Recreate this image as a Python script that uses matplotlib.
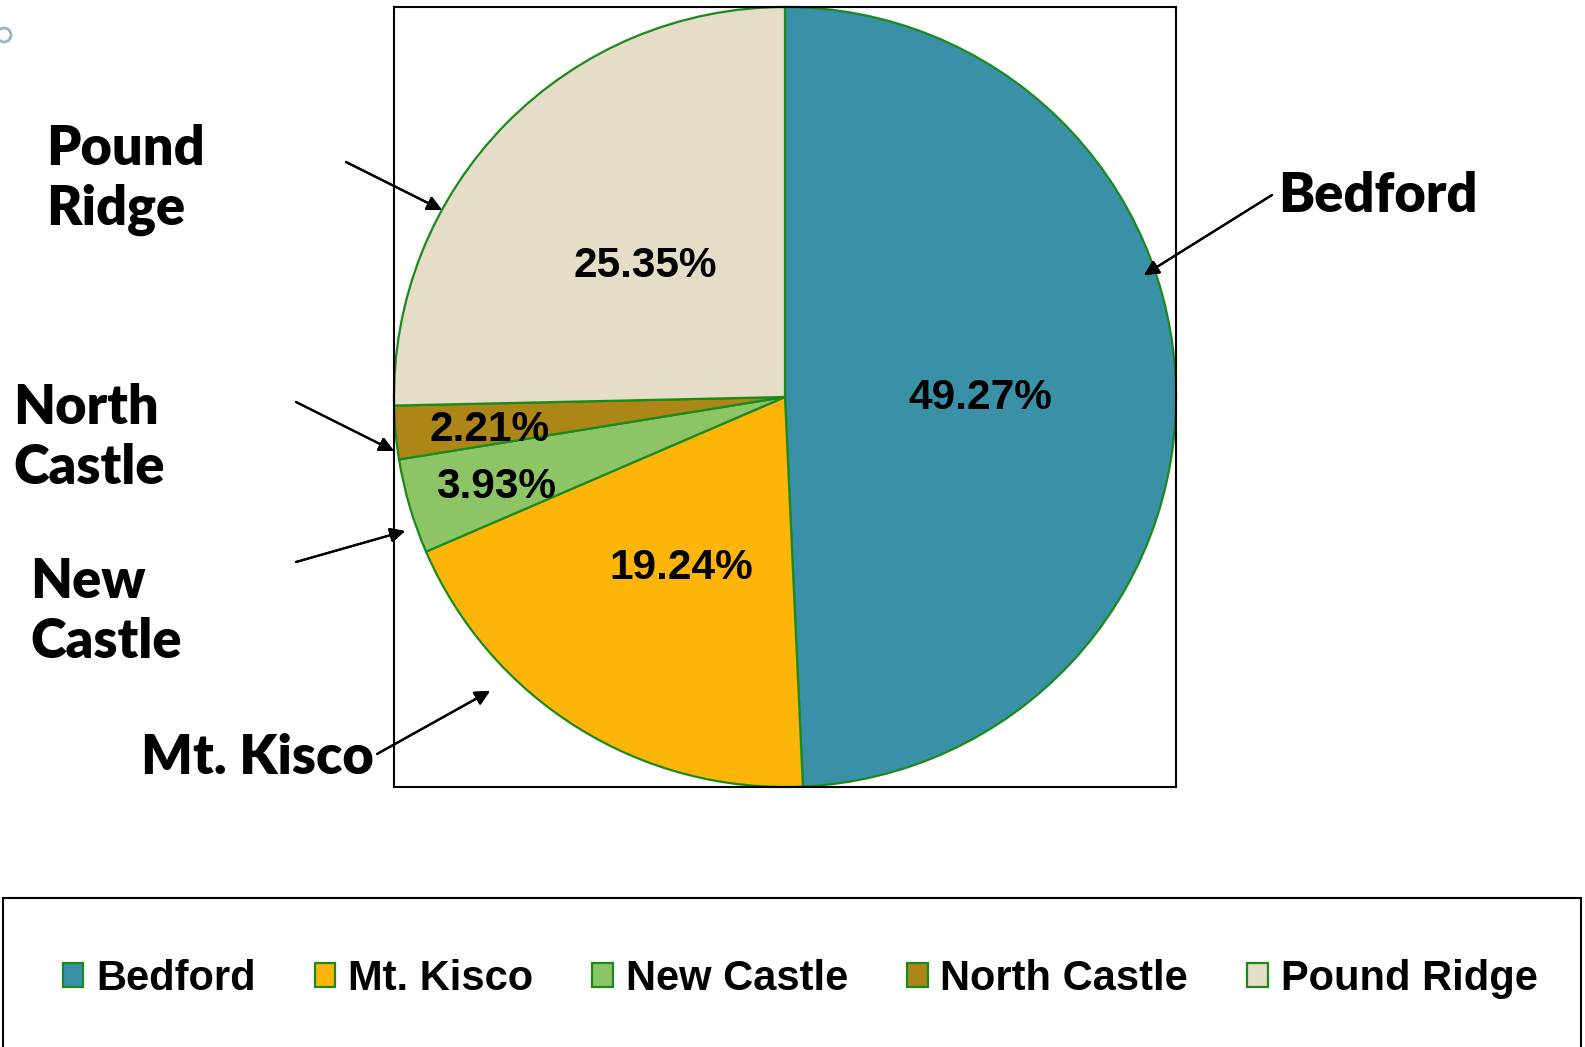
import matplotlib
matplotlib.use("Agg")
import matplotlib.pyplot as plt
import numpy as np
from matplotlib.patches import Rectangle, Ellipse

towns = ['Bedford', 'Mt. Kisco', 'New Castle', 'North Castle', 'Pound Ridge']
shares = [49.27, 19.24, 3.93, 2.21, 25.35]
colors = ['#3A91A7', '#FDB50A', '#8DC566', '#AC8717', '#E5DDC8']
pct_dist = [0.5, 0.5, 0.77, 0.76, 0.5]

W, H = 1585, 1047
fig = plt.figure(figsize=(W / 100, H / 100), dpi=100)

def fx(x):
    return x / W

def fy(y):
    return 1 - y / H

# pie box
ax = fig.add_axes([fx(394), fy(787), fx(1176) - fx(394), fy(7) - fy(787)])
wedges, _, autotexts = ax.pie(shares, colors=colors, startangle=90, counterclock=False,
                              autopct=lambda p: f'{p:.2f}%', pctdistance=0.5,
                              wedgeprops=dict(edgecolor='#1a8a1a', linewidth=1.6),
                              textprops=dict(family='Liberation Sans', weight='bold',
                                             fontsize=30.5, color='black'),
                              frame=True)
for w, t, d in zip(wedges, autotexts, pct_dist):
    ang = np.deg2rad((w.theta1 + w.theta2) / 2)
    t.set_position((d * np.cos(ang), d * np.sin(ang) - 0.015))
ax.set_xlim(-1, 1)
ax.set_ylim(-1, 1)
ax.set_aspect('auto')
ax.set_xticks([])
ax.set_yticks([])
for s in ax.spines.values():
    s.set_linewidth(1.5)
    s.set_color('black')

# callout labels with arrows (pixel positions, y from top)
callouts = [
    ('Bedford', 1278, 196, (1272, 195), (1144, 275)),
    ('Pound\nRidge', 46, 180, (346, 162), (442, 210)),
    ('North\nCastle', 13, 438, (296, 402), (394, 451)),
    ('New\nCastle', 30, 612, (296, 562), (405, 531)),
    ('Mt. Kisco', 141, 758, (377, 754), (490, 691)),
]
for name, tx, ty, p0, p1 in callouts:
    fig.text(fx(tx), fy(ty), name, ha='left', va='center', family='Lato',
             weight='heavy', fontsize=39, linespacing=1.22)
    fig.add_artist(plt.annotate('', xy=(p1[0], H - p1[1]), xytext=(p0[0], H - p0[1]),
                                xycoords='figure pixels', textcoords='figure pixels',
                                arrowprops=dict(arrowstyle='-|>', color='black', lw=1.6,
                                                mutation_scale=22, shrinkA=0, shrinkB=0)))

# legend box
fig.add_artist(Rectangle((fx(3), fy(1060)), fx(1581) - fx(3), fy(898) - fy(1060),
                         transform=fig.transFigure, fill=False, edgecolor='black',
                         linewidth=1.5))
fig.legend(wedges, towns, loc='center', bbox_to_anchor=(fx(800), fy(979)), ncol=5,
           frameon=False, prop=dict(family='Liberation Sans', weight='bold', size=30),
           handlelength=0.5, handleheight=0.5, handletextpad=0.3, columnspacing=1.42)

# small decorative circle top-left
fig.add_artist(Ellipse((fx(4), fy(35)), 14 / W, 14 / H, transform=fig.transFigure,
                       fill=False, edgecolor='#8fb8c4', linewidth=2))

fig.savefig('out.png', dpi=100)
